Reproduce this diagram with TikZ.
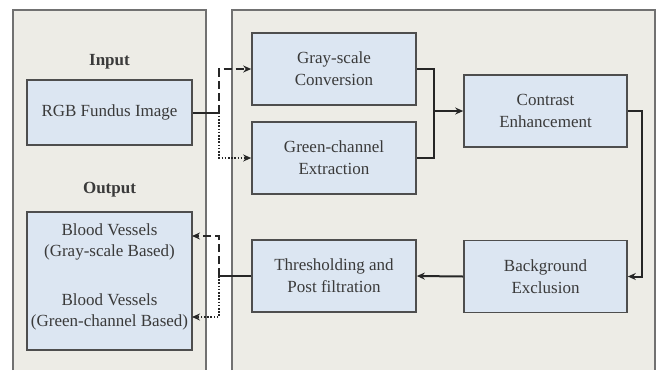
\documentclass[tikz,border=0pt]{standalone}
\usepackage{fontspec}
\setmainfont{Liberation Serif}
\usetikzlibrary{arrows.meta}

\definecolor{panelbg}{HTML}{EDECE6}
\definecolor{boxbg}{HTML}{DCE6F2}
\definecolor{boxline}{HTML}{4E4E4E}
\definecolor{inkgray}{HTML}{3A3A3A}

\tikzset{
  proc/.style={draw=boxline,line width=0.8pt,fill=boxbg,inner sep=0pt,
    minimum width=82pt,minimum height=36pt,align=center,text=inkgray,
    font=\fontsize{8.5}{11}\selectfont},
  txt/.style={inner sep=0pt,align=center,text=inkgray,
    font=\fontsize{8.5}{10.5}\selectfont},
  heading/.style={inner sep=0pt,text=inkgray,font=\fontsize{8.5}{10.5}\selectfont\bfseries},
  panel/.style={draw=boxline!80,line width=0.6pt},
  conn/.style={line width=1pt,draw=black!85,-{Stealth[length=4pt,width=3.5pt]}},
  plain/.style={line width=1pt,draw=black!85},
  dsh/.style={dash pattern=on 4pt off 2pt},
  dts/.style={line width=0.8pt,dash pattern=on 0.8pt off 0.8pt}
}

\begin{document}
\begin{tikzpicture}[x=0.5pt,y=-0.5pt]
      \useasboundingbox (0,0) rectangle (657,370);
      \fill[panelbg] (13,10) rectangle (206,370);
      \fill[panelbg] (232,10) rectangle (655,370);
      \draw[panel] (13,370) -- (13,10) -- (206,10) -- (206,370);
      \draw[panel] (232,370) -- (232,10) -- (655,10) -- (655,370);

      \node[heading] (10) at (109.5,62) {Input};
      \node[heading] (11) at (109.5,190) {Output};
      \node[proc,minimum width=82.5pt,minimum height=32.5pt] (1) at (109.5,112.5) {RGB Fundus Image};
      \node[proc] (2) at (334,69) {Gray-scale\\Conversion};
      \node[proc] (3) at (334,158) {Green-channel\\Extraction};
      \node[proc,minimum width=81.5pt] (4) at (545.5,111) {Contrast\\Enhancement};
      \node[proc,minimum width=81.5pt] (5) at (545.5,276.5) {Background\\Exclusion};
      \node[proc] (6) at (334,276) {Thresholding and\\Post filtration};
      \node[proc,minimum width=82.5pt,minimum height=69pt] (7) at (109.5,281) {};
      \node[txt] (8) at (109.5,241.5) {Blood Vessels\\(Gray-scale Based)};
      \node[txt] (9) at (109.5,311.5) {Blood Vessels\\(Green-channel Based)};

      \coordinate (a) at (219,112.5);
      \coordinate (b) at (434,111);
      \coordinate (c) at (642,111);
      \coordinate (d) at (219,276);
      \coordinate (e) at (192,236);
      \coordinate (f) at (192,317);

      \draw[plain] (1.east) -- (a);
      \draw[conn,dsh] (a) |- (2.west);
      \draw[conn,dts] (a) |- (3.west);
      \draw[plain] (2.east) -| (b) |- (3.east);
      \draw[conn] (b) -- (4.west);
      \draw[conn] (4.east) -- (c) |- (5.east);
      \draw[conn] (5.west) -- (6.east);
      \draw[plain] (6.west) -- (d);
      \draw[conn,dsh] (d) |- (e);
      \draw[conn,dts] (d) |- (f);
\end{tikzpicture}
\end{document}
